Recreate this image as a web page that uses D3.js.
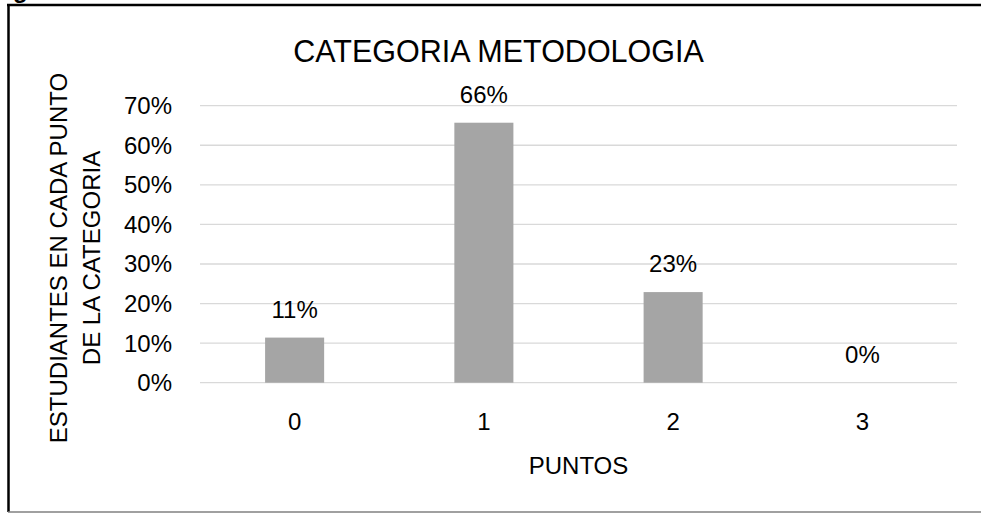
<!DOCTYPE html>
<html lang="en">
    <head>
        <meta charset="utf-8">
        <title>Categoria metodologia</title>
        <script src="https://d3js.org/d3.v7.min.js"></script>
        <style type="text/css">
        body {
            margin: 0;
            background-color: white;
        }
        text {
            font-family: "Liberation Sans", Arial, sans-serif;
            fill: black;
        }
        </style>
    </head>
    <body>
        <script>
        var categories = ["0", "1", "2", "3"];
        var values = [0.114, 0.657, 0.229, 0];
        var valueLabels = ["11%", "66%", "23%", "0%"];
        var yTicks = [0, 0.1, 0.2, 0.3, 0.4, 0.5, 0.6, 0.7];

        var width = 981,
            height = 514;
        var fontSize = "24px";

        var svg = d3.select("body").append("svg")
            .attr("width", width)
            .attr("height", height);

        // frame of the pasted chart (right edge is outside the picture)
        svg.append("text")
            .attr("x", 13).attr("y", -2)
            .style("font-weight", "bold").style("font-size", "24px")
            .text("g");
        svg.append("line").attr("x1", 7).attr("x2", width).attr("y1", 5).attr("y2", 5)
            .attr("stroke", "black").attr("stroke-width", 2.5);
        svg.append("line").attr("x1", 8.5).attr("x2", 8.5).attr("y1", 4).attr("y2", 512)
            .attr("stroke", "black").attr("stroke-width", 2.5);
        svg.append("line").attr("x1", 8).attr("x2", width).attr("y1", 512).attr("y2", 512)
            .attr("stroke", "#808080").attr("stroke-width", 1.5);

        var x = d3.scaleBand()
            .domain(categories)
            .range([200, 957])
            .paddingInner(0.688)
            .paddingOuter(0.344);

        var y = d3.scaleLinear()
            .domain([0, 0.7])
            .range([382.7, 105.7]);

        // gridlines
        svg.append("g").selectAll("line")
            .data(yTicks)
            .enter().append("line")
            .attr("x1", 200).attr("x2", 957)
            .attr("y1", function(d) { return y(d); })
            .attr("y2", function(d) { return y(d); })
            .attr("stroke", "#d9d9d9")
            .attr("stroke-width", 1.3);

        // y axis labels
        var yAxis = svg.append("g")
            .attr("transform", "translate(190,0)")
            .call(d3.axisLeft(y).tickValues(yTicks).tickFormat(d3.format(".0%")).tickSize(0).tickPadding(0));
        yAxis.select(".domain").remove();
        yAxis.selectAll("text")
            .style("font-size", fontSize)
            .style("font-family", "'Liberation Sans', Arial, sans-serif")
            .attr("x", -18)
            .attr("dy", "0.33em");

        // x axis labels
        var xAxis = svg.append("g")
            .attr("transform", "translate(0,382.7)")
            .call(d3.axisBottom(x).tickSize(0).tickPadding(0));
        xAxis.select(".domain").remove();
        xAxis.selectAll("text")
            .style("font-size", fontSize)
            .style("font-family", "'Liberation Sans', Arial, sans-serif")
            .attr("y", 47.5)
            .attr("dy", 0);

        // bars
        svg.append("g").selectAll("rect")
            .data(values)
            .enter().append("rect")
            .attr("x", function(d, i) { return x(categories[i]); })
            .attr("y", function(d) { return y(d); })
            .attr("width", x.bandwidth())
            .attr("height", function(d) { return y(0) - y(d); })
            .attr("fill", "#a5a5a5");

        // value labels
        svg.append("g").selectAll("text")
            .data(values)
            .enter().append("text")
            .attr("x", function(d, i) { return x(categories[i]) + x.bandwidth() / 2; })
            .attr("y", function(d) { return y(d) - 20; })
            .attr("text-anchor", "middle")
            .style("font-size", fontSize)
            .text(function(d, i) { return valueLabels[i]; });

        // title
        svg.append("text")
            .attr("x", 498.5).attr("y", 62)
            .attr("text-anchor", "middle")
            .style("font-size", "30.5px")
            .text("CATEGORIA METODOLOGIA");

        // x axis title
        svg.append("text")
            .attr("x", 578.5).attr("y", 473.5)
            .attr("text-anchor", "middle")
            .style("font-size", fontSize)
            .text("PUNTOS");

        // y axis title, two lines
        var yTitle = svg.append("text")
            .attr("transform", "translate(67,258) rotate(-90)")
            .attr("text-anchor", "middle")
            .style("font-size", fontSize);
        yTitle.append("tspan").attr("x", 0).attr("y", 0).text("ESTUDIANTES EN CADA PUNTO");
        yTitle.append("tspan").attr("x", 0).attr("y", 33).text("DE LA CATEGORIA");
        </script>
    </body>
</html>
